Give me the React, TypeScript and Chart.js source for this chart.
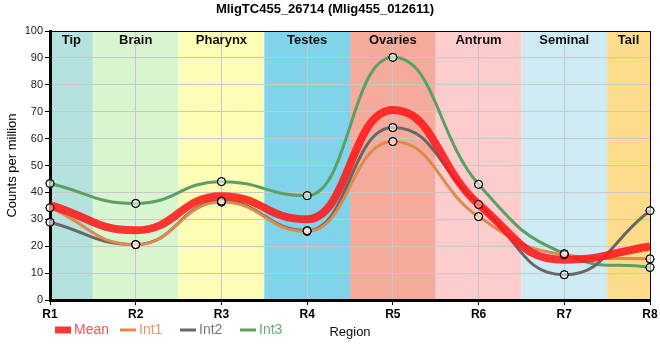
import React, { useEffect, useRef } from 'react';
import { Chart, registerables } from 'chart.js';

Chart.register(...registerables);

// ---- data ----
const regions = ['R1', 'R2', 'R3', 'R4', 'R5', 'R6', 'R7', 'R8'];
const meanValues = [35.3, 25.9, 38.6, 30.0, 70.6, 35.6, 15.0, 19.9];
const int1Values = [34.3, 20.6, 36.4, 25.5, 58.9, 31.0, 16.8, 15.3];
const int2Values = [28.9, 20.6, 36.8, 25.8, 64.1, 35.5, 9.4, 33.2];
const int3Values = [43.3, 35.9, 44.0, 38.8, 90.2, 43.0, 17.2, 12.1];
const seriesNames = ['Mean', 'Int1', 'Int2', 'Int3'];
const bandNames = ['Tip', 'Brain', 'Pharynx', 'Testes', 'Ovaries', 'Antrum', 'Seminal', 'Tail'];

// ---- styles ----
const bandColors = ['#b4e2dc', '#d9f5d0', '#fdfdb5', '#7fd4ea', '#f5ab9c', '#fdcccc', '#ceeaf3', '#fedb8b'];
const lineColors = ['rgba(255,25,25,0.88)', '#dd8a4c', '#676767', '#5c9f64'];
const legendTextColors = ['#ff4f5a', '#e8965c', '#777780', '#6aab73'];
const FONT = "'Liberation Sans', Arial, sans-serif";
const HANDLE = 1.45; // lengthen bezier handles for a flatter, spline-like look

const bandsPlugin = {
  id: 'bands',
  beforeDraw(chart: any) {
    const { ctx, chartArea } = chart;
    const x = chart.scales.x;
    ctx.save();
    bandNames.forEach((_, i) => {
      const l = Math.max(chartArea.left, x.getPixelForValue(i - 0.5));
      const r = Math.min(chartArea.right, x.getPixelForValue(i + 0.5));
      ctx.fillStyle = bandColors[i];
      ctx.fillRect(l, chartArea.top, r - l, chartArea.bottom - chartArea.top);
    });
    ctx.restore();
  },
  beforeDatasetsDraw(chart: any) {
    const { ctx, chartArea } = chart;
    const x = chart.scales.x;
    ctx.save();
    ctx.strokeStyle = '#000';
    ctx.lineWidth = 1;
    ctx.beginPath();
    ctx.moveTo(chartArea.left, chartArea.top + 0.5);
    ctx.lineTo(chartArea.right + 0.5, chartArea.top + 0.5);
    ctx.lineTo(chartArea.right + 0.5, chartArea.bottom);
    ctx.stroke();
    ctx.fillStyle = '#111';
    ctx.font = `bold 13px ${FONT}`;
    ctx.textAlign = 'center';
    ctx.textBaseline = 'middle';
    bandNames.forEach((name, i) => {
      const l = Math.max(chartArea.left, x.getPixelForValue(i - 0.5));
      const r = Math.min(chartArea.right, x.getPixelForValue(i + 0.5));
      ctx.fillText(name, (l + r) / 2, chartArea.top + 9);
    });
    ctx.restore();
  },
  beforeDatasetDraw(chart: any, args: any) {
    const line = args.meta.dataset;
    if (!line || line._scaledPts === line._points) return;
    line.updateControlPoints(chart.chartArea, 'x');
    const pts = line._points || [];
    pts.forEach((p: any) => {
      if (typeof p.cp1x === 'number') {
        p.cp1x = p.x + HANDLE * (p.cp1x - p.x);
        p.cp1y = p.y + HANDLE * (p.cp1y - p.y);
      }
      if (typeof p.cp2x === 'number') {
        p.cp2x = p.x + HANDLE * (p.cp2x - p.x);
        p.cp2y = p.y + HANDLE * (p.cp2y - p.y);
      }
    });
    line._path = undefined;
    line._scaledPts = line._points;
  },
  afterDatasetsDraw(chart: any) {
    const ctx = chart.ctx;
    ctx.save();
    chart.data.datasets.forEach((_: any, i: number) => {
      if (i === 0) return;
      chart.getDatasetMeta(i).data.forEach((pt: any) => pt.draw(ctx, chart.chartArea));
    });
    ctx.restore();
  },
  afterDraw(chart: any) {
    const { ctx, chartArea } = chart;
    const y = chartArea.bottom + 30;
    ctx.save();
    ctx.textBaseline = 'middle';
    ctx.textAlign = 'left';
    ctx.font = `14px ${FONT}`;
    let x = chartArea.left + 5;
    chart.data.datasets.forEach((ds: any, i: number) => {
      if (i === 0) {
        ctx.fillStyle = lineColors[i];
        ctx.fillRect(x, y - 3.5, 16, 7);
      } else {
        ctx.strokeStyle = lineColors[i];
        ctx.lineWidth = 3;
        ctx.beginPath();
        ctx.moveTo(x, y);
        ctx.lineTo(x + 16, y);
        ctx.stroke();
      }
      ctx.fillStyle = legendTextColors[i];
      ctx.fillText(ds.label, x + 19, y);
      const w = ctx.measureText(ds.label).width;
      x += Math.max(60, 19 + w + 11);
    });
    ctx.fillStyle = '#111';
    ctx.font = `13px ${FONT}`;
    ctx.textAlign = 'center';
    ctx.fillText('Region', (chartArea.left + chartArea.right) / 2, y + 2);
    ctx.restore();
  },
};

export default function App() {
  const ref = useRef<HTMLCanvasElement>(null);

  useEffect(() => {
    document.body.style.margin = '0';
    const seriesValues = [meanValues, int1Values, int2Values, int3Values];
    const chart = new Chart(ref.current as HTMLCanvasElement, {
      type: 'line',
      data: {
        labels: regions,
        datasets: seriesValues.map((vals, i) => ({
          label: seriesNames[i],
          data: vals,
          borderColor: lineColors[i],
          backgroundColor: lineColors[i],
          borderWidth: i === 0 ? 8 : 3,
          cubicInterpolationMode: 'monotone' as const,
          pointRadius: i === 0 ? 0 : 4,
          pointHoverRadius: i === 0 ? 0 : 4,
          pointBorderColor: '#000',
          pointBorderWidth: 1,
          pointBackgroundColor: 'rgba(255,255,255,0.35)',
          clip: false as any,
          fill: false,
        })),
      },
      options: {
        responsive: false,
        animation: false,
        layout: { padding: { top: 0, right: 10, bottom: 0, left: 0 } },
        scales: {
          x: {
            type: 'category',
            offset: false,
            grid: { color: '#c8c8c8', tickColor: '#000', tickLength: 5, offset: false },
            border: { display: true, color: '#000', width: 3 },
            ticks: { color: '#000', font: { family: FONT, size: 12, weight: 'bold' }, padding: 2, autoSkip: false, maxRotation: 0 },
            afterFit: (s: any) => { s.height = 60; },
          },
          y: {
            min: 0,
            max: 100,
            grid: { color: '#c8c8c8', tickColor: '#000', tickLength: 5 },
            border: { display: true, color: '#000', width: 3 },
            ticks: { stepSize: 10, color: '#222', font: { family: FONT, size: 11 }, padding: 2 },
            title: { display: true, text: 'Counts per million', color: '#000', font: { family: FONT, size: 13 }, padding: { top: 5, bottom: 0 } },
            afterFit: (s: any) => { s.width = 50; },
          },
        },
        plugins: {
          title: {
            display: true,
            text: 'MligTC455_26714 (Mlig455_012611)',
            color: '#000',
            font: { family: FONT, size: 13, weight: 'bold' },
            padding: { top: 1.5, bottom: 13.9 },
          },
          legend: { display: false },
          tooltip: { enabled: false },
        },
      },
      plugins: [bandsPlugin],
    } as any);
    return () => chart.destroy();
  }, []);

  return (
    <div style={{ width: 660, height: 360 }}>
      <canvas ref={ref} width={660} height={360} />
    </div>
  );
}
